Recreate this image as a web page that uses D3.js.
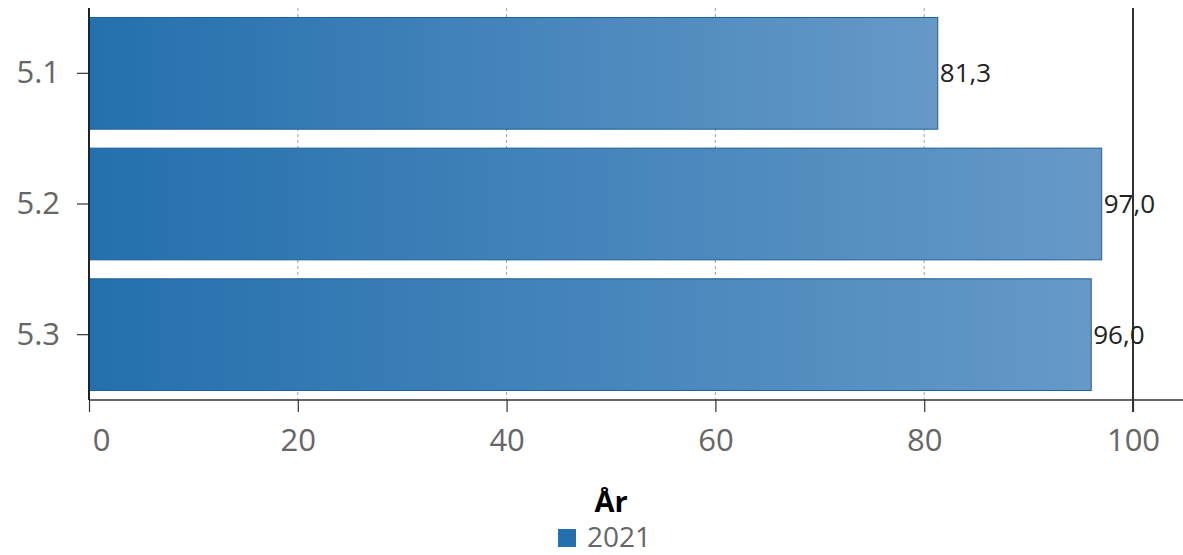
<!DOCTYPE html>
<html><head><meta charset="utf-8">
<script src="https://cdn.jsdelivr.net/npm/d3@7"></script>
<style>
body{margin:0;background:#fff;}
text{font-family:"Open Sans","Noto Sans",sans-serif;}
</style></head>
<body><svg id="c" width="1183" height="555"></svg>
<script>
const categories = ["5.1","5.2","5.3"];
const values = [81.3, 97.0, 96.0];
const xTicks = [0,20,40,60,80,100];
const seriesName = "2021";
const legendTitle = "År";

const svg = d3.select("#c");
const x = d3.scaleLinear().domain([0,100]).range([89,1133]);
const y = d3.scaleBand().domain(categories).range([8,400]).paddingInner(0.145).paddingOuter(0.0725);

const defs = svg.append("defs");
const g = defs.append("linearGradient").attr("id","grad").attr("x1","0").attr("x2","1").attr("y1","0").attr("y2","0");
g.append("stop").attr("offset","0%").attr("stop-color","#2470ad");
g.append("stop").attr("offset","100%").attr("stop-color","#6699c8");

// gridlines
svg.append("g").selectAll("line").data(xTicks.filter(d=>d>0 && d<100)).join("line")
  .attr("x1",d=>x(d)).attr("x2",d=>x(d)).attr("y1",8).attr("y2",400)
  .attr("stroke","#888").attr("stroke-width",0.8).attr("stroke-dasharray","3,3");

// bars
svg.append("g").selectAll("rect").data(categories).join("rect")
  .attr("x",x(0)).attr("y",d=>y(d))
  .attr("width",(d,i)=>x(values[i])-x(0)).attr("height",y.bandwidth())
  .attr("fill","url(#grad)").attr("stroke","#1d5f9a").attr("stroke-width",1);

// right line at 100
svg.append("line").attr("x1",x(100)).attr("x2",x(100)).attr("y1",8).attr("y2",412)
  .attr("stroke","#333").attr("stroke-width",2);

// x axis
const xa = svg.append("g").attr("transform","translate(0,400)")
  .call(d3.axisBottom(x).tickValues(xTicks).tickSize(12).tickFormat(d3.format("d")));
xa.select(".domain").remove();
xa.append("line").attr("x1",89).attr("x2",1183).attr("y1",0).attr("y2",0).attr("stroke","#333").attr("stroke-width",1.5);
xa.selectAll(".tick line").attr("stroke","#333").attr("stroke-width",1.2);
xa.selectAll(".tick text").attr("fill","#666").style("font-size","31px")
  .attr("y",51).attr("dy",null)
  .attr("dx",d=>d===0?12:0);

// y axis
const ya = svg.append("g").attr("transform","translate(89,0)")
  .call(d3.axisLeft(y).tickSize(12).tickPadding(17));
ya.select(".domain").remove();
ya.append("line").attr("x1",0).attr("x2",0).attr("y1",8).attr("y2",400).attr("stroke","#222").attr("stroke-width",2);
ya.selectAll(".tick line").attr("stroke","#333").attr("stroke-width",1.2);
ya.selectAll(".tick text").attr("fill","#666").style("font-size","31px");

// value labels
svg.append("g").selectAll("text").data(categories).join("text")
  .attr("x",(d,i)=>x(values[i])+2).attr("y",d=>y(d)+y.bandwidth()/2)
  .attr("dy","0.35em").attr("fill","#222").style("font-size","26px")
  .text((d,i)=>d3.format(".1f")(values[i]).replace(".",","));

// legend
svg.append("text").attr("x",611).attr("y",512).attr("text-anchor","middle")
  .style("font-size","29px").style("font-weight","bold").attr("fill","#000").text(legendTitle);
svg.append("rect").attr("x",558).attr("y",529).attr("width",18).attr("height",18).attr("fill","#2470ad");
svg.append("text").attr("x",587).attr("y",547)
  .style("font-size","28px").attr("fill","#666").text(seriesName);
</script></body></html>
